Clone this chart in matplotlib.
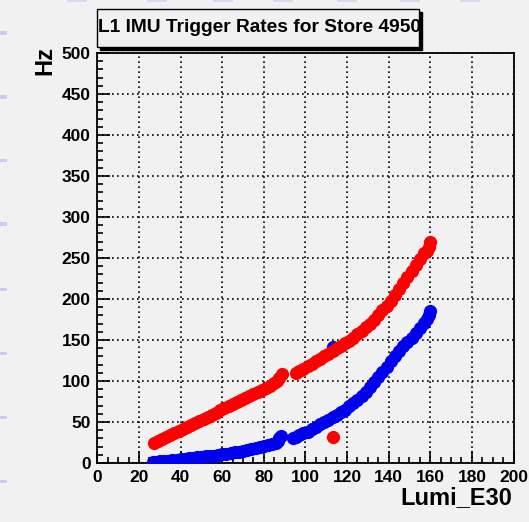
import matplotlib
matplotlib.use("Agg")
import matplotlib.pyplot as plt
from matplotlib.patches import Rectangle
from matplotlib.ticker import MultipleLocator

# red: upper rate, two fill segments + one stray point
red_x1 = [27, 29, 31, 33, 35, 37, 39, 41, 43, 45, 47, 49, 51, 53, 55, 57, 59, 61,
          63, 65, 67, 69, 71, 73, 75, 77, 79, 81, 83, 85, 86.5, 87.5, 88.5]
red_y1 = [24, 26.5, 29, 31.5, 34, 36.5, 39, 41.5, 44, 46.5, 49, 51.5, 54, 56.5, 59,
          61.5, 64.5, 67, 69.5, 72, 74.5, 77, 79.5, 82, 84.5, 87, 89.5, 92, 94.5,
          97, 100, 104, 108]
red_x2 = [95.5, 97, 99, 101, 103, 105, 107, 109, 111, 113, 115, 117, 119, 121, 123,
          125, 127, 129, 131, 133, 135, 137, 139, 141, 143, 145, 147, 149, 151, 153,
          155, 157, 158.5, 159.5, 160]
red_y2 = [110, 112, 115, 118, 121, 124, 127, 130, 133, 137, 140, 143, 146, 149, 153,
          157, 161, 166, 170, 175, 180, 186, 192, 198, 205, 212, 219, 227, 234, 241,
          249, 256, 258, 264, 270]
red_extra_x = [113]
red_extra_y = [32]

# blue: lower rate
blue_x1 = [26.5, 28, 30, 32, 34, 36, 38, 40, 42, 44, 46, 48, 50, 52, 54, 56, 58, 60,
           62, 64, 66, 68, 70, 72, 74, 76, 78, 80, 82, 84, 86, 87, 87.5, 88]
blue_y1 = [1, 1.5, 2, 2.5, 3, 3.5, 4, 5, 5.5, 6, 6.5, 7, 7.5, 8, 8.5, 9, 9.5, 10.5,
           11, 12, 13, 14, 15, 16, 17, 18, 19, 20.5, 22, 23.5, 25, 27, 30, 33]
blue_x2 = [94, 95.5, 97, 99, 101, 103, 105, 107, 109, 111, 113, 115, 117, 119, 121,
           123, 125, 127, 129, 131, 133, 135, 137, 139, 141, 143, 145, 147, 149, 151,
           153, 155, 157, 158.5, 159.5, 160]
blue_y2 = [31, 32, 34, 36, 38, 41, 44, 47, 50, 53, 56, 59, 62, 65, 69, 73, 77, 82,
           87, 93, 99, 105, 111, 117, 124, 131, 137, 143, 148, 153, 158, 165, 171,
           176, 181, 185]
blue_extra_x = [113]
blue_extra_y = [142]

bg = "#f1f1f1"
fig = plt.figure(figsize=(5.29, 5.22), dpi=100, facecolor=bg)
ax = fig.add_axes([0.1843, 0.1130, 0.7864, 0.7855], facecolor=bg)

ms = 9.5
for xs, ys in [(blue_x1, blue_y1), (blue_x2, blue_y2), (blue_extra_x, blue_extra_y)]:
    ax.plot(xs, ys, "o", color="#0000f0", ms=ms, mew=0, zorder=3)
for xs, ys in [(red_x1, red_y1), (red_x2, red_y2), (red_extra_x, red_extra_y)]:
    ax.plot(xs, ys, "o", color="#ff0000", ms=ms, mew=0, zorder=4)

ax.set_xlim(0, 200)
ax.set_ylim(0, 500)
ax.xaxis.set_major_locator(MultipleLocator(20))
ax.xaxis.set_minor_locator(MultipleLocator(5))
ax.yaxis.set_major_locator(MultipleLocator(50))
ax.yaxis.set_minor_locator(MultipleLocator(10))
ax.grid(True, which="major", color="black", ls=(0, (1, 2)), lw=1.2)
ax.tick_params(which="both", direction="in", top=False, right=False, width=1.2,
               labelsize=12.5)
ax.tick_params(which="major", length=9)
ax.tick_params(which="minor", length=4.5)
ax.tick_params(axis="x", pad=5)
ax.tick_params(axis="y", pad=5)
for lab in ax.get_xticklabels() + ax.get_yticklabels():
    lab.set_fontweight("bold")
    lab.set_family("Liberation Sans")
for s in ax.spines.values():
    s.set_linewidth(1.3)

fig.text(0.968, 0.035, "Lumi_E30", ha="right", va="baseline", fontsize=17,
         fontweight="bold", family="Liberation Sans")
fig.text(0.085, 0.912, "Hz", ha="center", va="top", rotation=90, fontsize=17,
         fontweight="bold", family="Liberation Sans")

# title box with drop shadow
W, H = 529, 522
bx0, by0, bx1, by1 = 97, 9, 419, 47
fig.patches.append(Rectangle((bx0 / W + 3 / W, 1 - by1 / H - 3 / H), (bx1 - bx0) / W,
                             (by1 - by0) / H, transform=fig.transFigure,
                             facecolor="black", edgecolor="black", zorder=1))
fig.patches.append(Rectangle((bx0 / W, 1 - by1 / H), (bx1 - bx0) / W, (by1 - by0) / H,
                             transform=fig.transFigure, facecolor=bg,
                             edgecolor="black", lw=1.0, zorder=2))
fig.text(98 / W, 1 - 28 / H, "L1 IMU Trigger Rates for Store 4950", ha="left",
         va="center", fontsize=13.8, fontweight="bold", family="Liberation Sans",
         zorder=3, clip_on=False)

# faint slide marks at the left and top edges
for py in [33, 97, 160, 224, 289, 353, 417, 481]:
    fig.patches.append(Rectangle((0, 1 - (py + 1.5) / H), 7 / W, 3 / H,
                                 transform=fig.transFigure, facecolor="#c5cdf3",
                                 edgecolor="none"))
for px in [67, 147, 213, 273, 337, 400, 460]:
    fig.patches.append(Rectangle((px / W, 1 - 2 / H), 20 / W, 2 / H,
                                 transform=fig.transFigure, facecolor="#d5dbf6",
                                 edgecolor="none"))

fig.savefig("out.png", dpi=100, facecolor=bg)
